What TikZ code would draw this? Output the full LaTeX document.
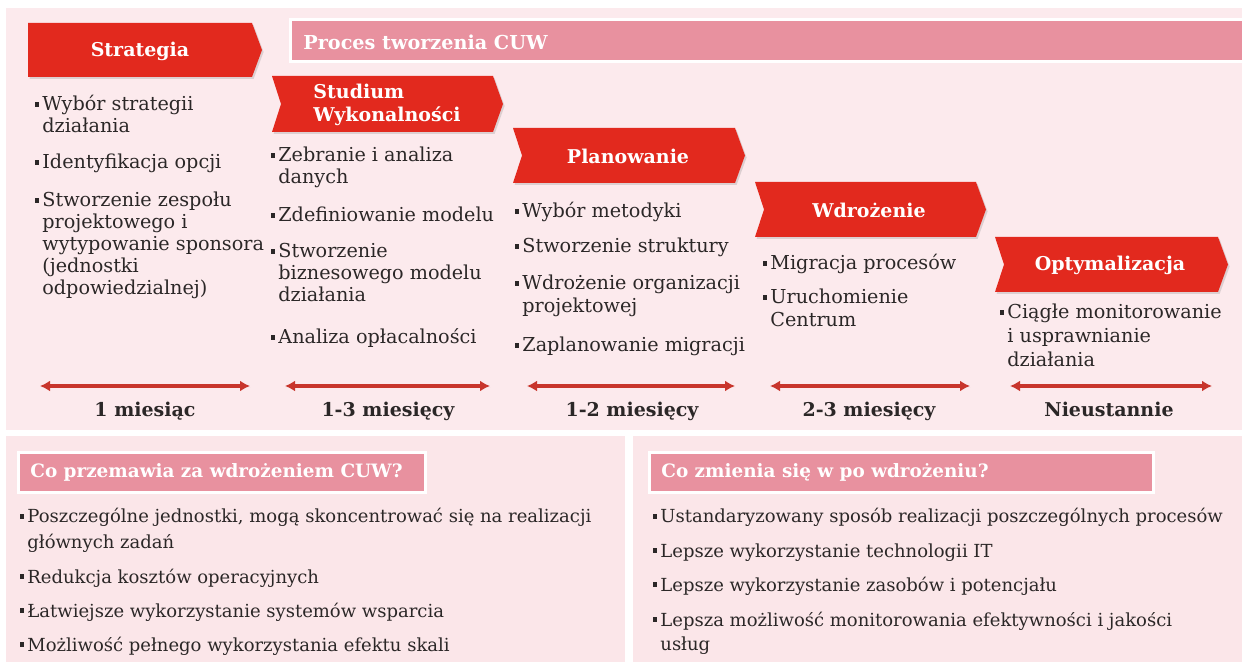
\documentclass[tikz,border=0pt]{standalone}
\usepackage{fontspec}
\setmainfont{DejaVu Serif}
\usetikzlibrary{arrows.meta,shadows}
\definecolor{bgtop}{HTML}{FCEAED}
\definecolor{bgbot}{HTML}{FBE6E9}
\definecolor{barpink}{HTML}{E8919F}
\definecolor{chevred}{HTML}{E2291E}
\definecolor{spanred}{HTML}{C8352C}
\definecolor{txtdark}{HTML}{2B2727}
\newcommand\bul{\llap{\rule[2.2pt]{2.3pt}{2.3pt}\hspace{1.6pt}}}
\tikzset{
  chev/.style={fill=chevred, draw=none, drop shadow={opacity=0.25, shadow xshift=0.8pt, shadow yshift=-1pt}},
  chevtext/.style={text=white, inner sep=0pt, align=left, font=\fontsize{9.5}{11.5}\selectfont\bfseries},
  item/.style={anchor=base west, inner sep=0pt, text=txtdark, font=\fontsize{9.6}{11}\selectfont},
  bitem/.style={item, font=\fontsize{9}{11}\selectfont},
  span/.style={{Latex[length=5pt,width=5.5pt]}-{Latex[length=5pt,width=5.5pt]}, draw=spanred, line width=1.6pt,
    drop shadow={opacity=0.2, shadow xshift=0.4pt, shadow yshift=-0.8pt}},
  dur/.style={anchor=base, inner sep=0pt, text=txtdark, font=\fontsize{9.5}{11}\selectfont\bfseries},
  hdr/.style={fill=barpink, draw=white, line width=1.5pt},
  hdrtext/.style={anchor=west, text=white, inner sep=0pt, font=\fontsize{9.2}{11}\selectfont\bfseries},
}
\newcommand\chevpath[5]{%
  \path[chev] (#1,#2) -- (#3-10,#2) -- (#3,{(#2+#4)/2}) -- (#3-10,#4) -- (#1,#4) -- (#1+#5,{(#2+#4)/2}) -- cycle;}
\begin{document}
\begin{tikzpicture}[x=0.5pt,y=-0.5pt]
\useasboundingbox (0,0) rectangle (1242,662);
\clip (0,0) rectangle (1242,662);
\fill[white] (0,0) rectangle (1242,662);
% backgrounds
\fill[bgtop] (6,8) rectangle (1242,430);
\fill[bgbot] (6,436) rectangle (625,662);
\fill[bgbot] (633,436) rectangle (1242,662);
% process bar
\draw[hdr] (290,20) rectangle (1250,62);
\node[hdrtext, font=\fontsize{9.6}{11}\selectfont\bfseries] (proces) at (303,42) {Proces tworzenia CUW};
% chevrons
\chevpath{28}{23}{262}{77}{0}
\node[chevtext] (strat) at (140,51) {Strategia};
\chevpath{272}{76}{503}{132}{9}
\node[chevtext] (stud) at (387,105) {Studium\\Wykonalności};
\chevpath{513}{128}{745}{183}{9}
\node[chevtext] (plan) at (628,156) {Planowanie};
\chevpath{755}{182}{986}{237}{9}
\node[chevtext] (wdr) at (869,210) {Wdrożenie};
\chevpath{995}{237}{1228}{292}{9}
\node[chevtext] (opt) at (1110,265) {Optymalizacja};
% column 1
\node[item] (a1) at (42,111) {\bul Wybór strategii};
\node[item] (a2) at (42,133) {działania};
\node[item] (a3) at (42,169) {\bul Identyfikacja opcji};
\node[item] (a4) at (42,207) {\bul Stworzenie zespołu};
\node[item] (a5) at (42,229) {projektowego i};
\node[item] (a6) at (42,251) {wytypowanie sponsora};
\node[item] (a7) at (42,273) {(jednostki};
\node[item] (a8) at (42,295) {odpowiedzialnej)};
% column 2
\node[item] (b1) at (278,162) {\bul Zebranie i analiza};
\node[item] (b2) at (278,184) {danych};
\node[item] (b3) at (278,222) {\bul Zdefiniowanie modelu};
\node[item] (b4) at (278,258) {\bul Stworzenie};
\node[item] (b5) at (278,280) {biznesowego modelu};
\node[item] (b6) at (278,302) {działania};
\node[item] (b7) at (278,344) {\bul Analiza opłacalności};
% column 3
\node[item] (c1) at (522,218) {\bul Wybór metodyki};
\node[item] (c2) at (522,253) {\bul Stworzenie struktury};
\node[item] (c3) at (522,290) {\bul Wdrożenie organizacji};
\node[item] (c4) at (522,313) {projektowej};
\node[item] (c5) at (522,352) {\bul Zaplanowanie migracji};
% column 4
\node[item] (d1) at (770,270) {\bul Migracja procesów};
\node[item] (d2) at (770,304) {\bul Uruchomienie};
\node[item] (d3) at (770,327) {Centrum};
% column 5
\node[item] (e1) at (1007,319) {\bul Ciągłe monitorowanie};
\node[item] (e2) at (1007,343) {i usprawnianie};
\node[item] (e3) at (1007,367) {działania};
% spans
\coordinate (s1a) at (40,386);  \coordinate (s1b) at (250,386);
\coordinate (s2a) at (285,386); \coordinate (s2b) at (490,386);
\coordinate (s3a) at (527,386); \coordinate (s3b) at (735,386);
\coordinate (s4a) at (770,386); \coordinate (s4b) at (970,386);
\coordinate (s5a) at (1010,386);\coordinate (s5b) at (1212,386);
\draw[span] (s1a) -- (s1b);
\draw[span] (s2a) -- (s2b);
\draw[span] (s3a) -- (s3b);
\draw[span] (s4a) -- (s4b);
\draw[span] (s5a) -- (s5b);
\node[dur] (t1) at (145,416) {1 miesiąc};
\node[dur] (t2) at (388,416) {1-3 miesięcy};
\node[dur] (t3) at (632,416) {1-2 miesięcy};
\node[dur] (t4) at (869,416) {2-3 miesięcy};
\node[dur] (t5) at (1109,416) {Nieustannie};
% bottom headers
\draw[hdr] (18,453) rectangle (425,492);
\node[hdrtext] (h1) at (30,472) {Co przemawia za wdrożeniem CUW?};
\draw[hdr] (649,453) rectangle (1153,492);
\node[hdrtext] (h2) at (661,472) {Co zmienia się w po wdrożeniu?};
% bottom left
\node[bitem] (f1) at (27,523) {\bul Poszczególne jednostki, mogą skoncentrować się na realizacji};
\node[bitem] (f2) at (27,548) {głównych zadań};
\node[bitem] (f3) at (27,583) {\bul Redukcja kosztów operacyjnych};
\node[bitem] (f4) at (27,617) {\bul Łatwiejsze wykorzystanie systemów wsparcia};
\node[bitem] (f5) at (27,651) {\bul Możliwość pełnego wykorzystania efektu skali};
% bottom right
\node[bitem] (g1) at (660,523) {\bul Ustandaryzowany sposób realizacji poszczególnych procesów};
\node[bitem] (g2) at (660,557) {\bul Lepsze wykorzystanie technologii IT};
\node[bitem] (g3) at (660,591) {\bul Lepsze wykorzystanie zasobów i potencjału};
\node[bitem] (g4) at (660,626) {\bul Lepsza możliwość monitorowania efektywności i jakości};
\node[bitem] (g5) at (660,650) {usług};
\end{tikzpicture}
\end{document}
